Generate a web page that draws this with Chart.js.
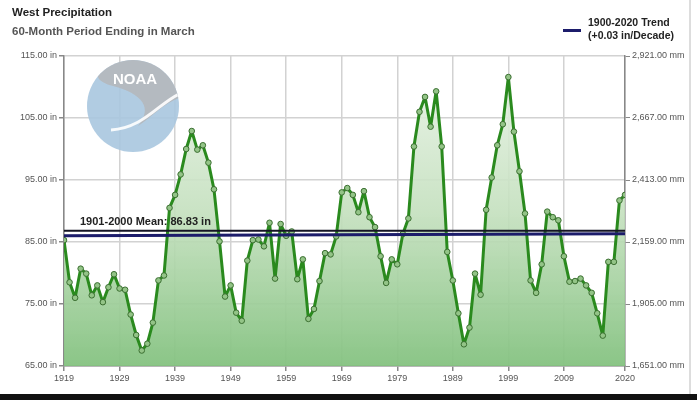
<!DOCTYPE html>
<html>
<head>
<meta charset="utf-8">
<script src="https://cdn.jsdelivr.net/npm/chart.js@4.4.0/dist/chart.umd.min.js"></script>
<style>
  html, body { margin:0; padding:0; background:#fff; }
  #wrap { position:relative; width:697px; height:400px; overflow:hidden; background:#fff; }
  #c { position:absolute; left:0; top:0; }
  .t { position:absolute; font-family:"Liberation Sans", Arial, sans-serif; font-weight:bold; white-space:nowrap; }
  #title { left:12px; top:6px; font-size:11.5px; color:#222; }
  #sub { left:12px; top:25px; font-size:11.5px; color:#555; }
  #leg { left:588px; top:16px; font-size:10.5px; color:#222; line-height:13px; }
  #legline { position:absolute; left:563px; top:29px; width:18px; height:3px; background:#1c1c6b; }
  #bottombar { position:absolute; left:0; top:394px; width:697px; height:6px; background:#111; }
  #rightedge { position:absolute; left:689px; top:0; width:2px; height:394px; background:#ddd; }
</style>
</head>
<body>
<div id="wrap">
  <canvas id="c" width="697" height="400"></canvas>
  <div class="t" id="title">West Precipitation</div>
  <div class="t" id="sub">60-Month Period Ending in March</div>
  <div id="legline"></div>
  <div class="t" id="leg">1900-2020 Trend<br>(+0.03 in/Decade)</div>
  <div id="rightedge"></div>
  <div id="bottombar"></div>
</div>
<script>
// ---- data ----
const startYear = 1919;
const endYear = 2020;
const precipIn = [
  85.3, 78.5, 76.0, 80.7, 79.9, 76.4, 78.0, 75.3, 77.7, 79.8,
  77.5, 77.3, 73.3, 70.0, 67.5, 68.6, 72.0, 78.8, 79.6, 90.5,
  92.6, 95.9, 100.0, 102.9, 99.9, 100.6, 97.8, 93.5, 85.1, 76.2,
  78.0, 73.6, 72.3, 82.0, 85.3, 85.4, 84.3, 88.1, 79.1, 87.9,
  86.0, 86.7, 79.0, 82.2, 72.6, 74.2, 78.7, 83.2, 83.0, 85.9,
  93.0, 93.7, 92.6, 89.8, 93.2, 89.0, 87.4, 82.7, 78.4, 82.2,
  81.4, 86.3, 88.8, 100.4, 106.0, 108.4, 103.6, 109.3, 100.4, 83.4,
  78.8, 73.5, 68.5, 71.2, 79.9, 76.5, 90.2, 95.4, 100.6, 104.0,
  111.6, 102.8, 96.4, 89.6, 78.8, 76.8, 81.4, 89.9, 89.0, 88.5,
  82.7, 78.6, 78.7, 79.1, 78.0, 76.8, 73.5, 69.9, 81.8, 81.8,
  91.7, 92.6
];
const meanValue = 86.83;
const trendStart = 86.0;
const trendEnd = 86.35;
const xTickYears = [1919, 1929, 1939, 1949, 1959, 1969, 1979, 1989, 1999, 2009, 2020];
const yTicksIn = [65, 75, 85, 95, 105, 115];
const yTicksMm = [1651, 1905, 2159, 2413, 2667, 2921];
const meanLabel = "1901-2000 Mean: 86.83 in";

const years = [];
for (let y = startYear; y <= endYear; y++) years.push(y);
const seriesPts = years.map((y, i) => ({ x: y, y: precipIn[i] }));

const fontFam = '"Liberation Sans", Arial, sans-serif';
const tickFont = { family: fontFam, size: 9 };

const logoPlugin = {
  id: 'logo',
  beforeDatasetsDraw(chart) {
    const ctx = chart.ctx;
    const cx = 133, cy = 106, r = 46;
    ctx.save();
    ctx.globalAlpha = 0.9;
    ctx.beginPath();
    ctx.arc(cx, cy, r, 0, Math.PI * 2);
    ctx.closePath();
    ctx.fillStyle = '#a9c7df';
    ctx.fill();
    ctx.clip();
    ctx.beginPath();
    ctx.moveTo(cx - r, cy - r);
    ctx.lineTo(cx + r, cy - r);
    ctx.lineTo(cx + r, cy - 8);
    ctx.bezierCurveTo(cx + 30, cy - 2, cx + 20, cy + 10, cx + 5, cy + 20);
    ctx.bezierCurveTo(cx + 20, cy + 2, cx + 10, cy - 12, cx - 20, cy - 20);
    ctx.bezierCurveTo(cx - 35, cy - 24, cx - 40, cy - 30, cx - 30, cy - 40);
    ctx.closePath();
    ctx.fillStyle = '#b5b8bc';
    ctx.fill();
    ctx.beginPath();
    ctx.moveTo(cx + r, cy - 12);
    ctx.bezierCurveTo(cx + 25, cy - 2, cx + 10, cy + 22, cx - 22, cy + 24);
    ctx.lineWidth = 3;
    ctx.strokeStyle = '#ffffff';
    ctx.stroke();
    ctx.restore();
    ctx.save();
    ctx.fillStyle = '#ffffff';
    ctx.font = 'bold 15px ' + fontFam;
    ctx.textAlign = 'center';
    ctx.textBaseline = 'middle';
    ctx.fillText('NOAA', cx + 2, cy - 26);
    ctx.restore();
  }
};

const meanLabelPlugin = {
  id: 'meanLabel',
  afterDatasetsDraw(chart) {
    const ctx = chart.ctx;
    const xs = chart.scales.x, ys = chart.scales.y;
    ctx.save();
    ctx.font = 'bold 11px ' + fontFam;
    ctx.fillStyle = '#222';
    ctx.textAlign = 'left';
    ctx.textBaseline = 'alphabetic';
    ctx.fillText(meanLabel, xs.getPixelForValue(startYear) + 16, ys.getPixelForValue(meanValue) - 6);
    ctx.restore();
  }
};

new Chart(document.getElementById('c'), {
  type: 'line',
  data: {
    datasets: [
      {
        label: 'Mean',
        data: [{ x: startYear, y: meanValue }, { x: endYear, y: meanValue }],
        borderColor: '#151525',
        borderWidth: 2,
        pointRadius: 0,
        fill: false,
        order: 1
      },
      {
        label: 'Trend',
        data: [{ x: startYear, y: trendStart }, { x: endYear, y: trendEnd }],
        borderColor: '#1c1c6b',
        borderWidth: 3,
        pointRadius: 0,
        fill: false,
        order: 2
      },
      {
        label: 'West Precipitation',
        data: seriesPts,
        borderColor: '#2a8a1e',
        borderWidth: 3,
        borderJoinStyle: 'round',
        borderCapStyle: 'round',
        pointRadius: 2.8,
        pointBorderWidth: 1,
        pointBackgroundColor: '#93c487',
        pointBorderColor: '#3a6e30',
        tension: 0,
        fill: 'start',
        backgroundColor: (ctx) => {
          const ca = ctx.chart.chartArea;
          if (!ca) return 'rgba(140,197,135,0.6)';
          const g = ctx.chart.ctx.createLinearGradient(0, ca.top, 0, ca.bottom);
          g.addColorStop(0, 'rgba(235,244,233,0.9)');
          g.addColorStop(0.5, 'rgba(196,224,190,0.9)');
          g.addColorStop(1, 'rgba(132,194,128,0.95)');
          return g;
        },
        order: 3
      }
    ]
  },
  options: {
    responsive: false,
    animation: false,
    layout: { padding: { top: 56, right: 0, left: 0, bottom: 0 } },
    plugins: { legend: { display: false }, tooltip: { enabled: false } },
    scales: {
      x: {
        type: 'linear',
        min: startYear,
        max: endYear,
        afterBuildTicks(s) { s.ticks = xTickYears.map(v => ({ value: v })); },
        afterFit(s) { s.height = 34; },
        ticks: { color: '#555', font: tickFont, maxRotation: 0, autoSkip: false, padding: 2,
                 callback: v => String(v) },
        grid: { color: '#d2d2d2', lineWidth: 1.5, tickLength: 5, tickColor: '#888' },
        border: { color: '#888', width: 1.5 }
      },
      y: {
        position: 'left',
        min: 65,
        max: 115,
        afterBuildTicks(s) { s.ticks = yTicksIn.map(v => ({ value: v })); },
        afterFit(s) { s.width = 64; },
        ticks: { color: '#555', font: tickFont, padding: 2,
                 callback: v => v.toFixed(2) + ' in' },
        grid: { color: '#d2d2d2', lineWidth: 1.5, tickLength: 5, tickColor: '#888' },
        border: { color: '#888', width: 1.5 }
      },
      y2: {
        position: 'right',
        min: 1651,
        max: 2921,
        afterBuildTicks(s) { s.ticks = yTicksMm.map(v => ({ value: v })); },
        afterFit(s) { s.width = 72; },
        ticks: { color: '#555', font: tickFont, padding: 2,
                 callback: v => v.toLocaleString('en-US', { minimumFractionDigits: 2, maximumFractionDigits: 2 }) + ' mm' },
        grid: { display: true, drawOnChartArea: false, tickLength: 5, tickColor: '#888' },
        border: { color: '#888', width: 1.5 }
      }
    }
  },
  plugins: [logoPlugin, meanLabelPlugin]
});
</script>
</body>
</html>
